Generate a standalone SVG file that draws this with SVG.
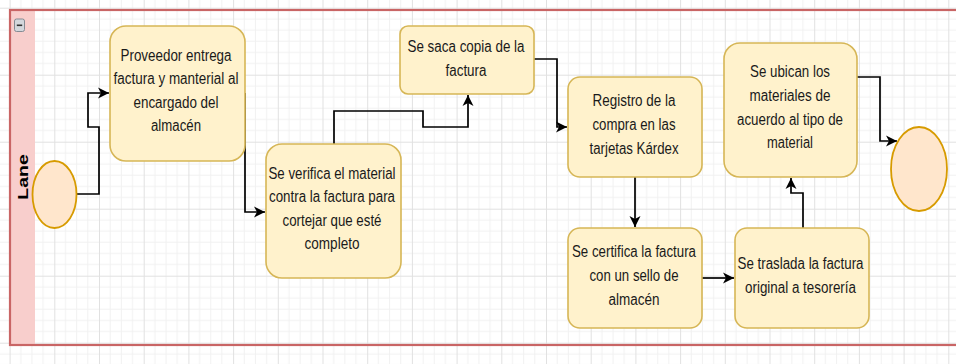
<svg xmlns="http://www.w3.org/2000/svg" width="956" height="364" viewBox="0 0 956 364">
<defs>
<pattern id="grid" patternUnits="userSpaceOnUse" x="9.6" y="7.7" width="44.7" height="67">
<path d="M11.17,0V67M22.35,0V67M33.52,0V67M0,11.17H44.7M0,22.33H44.7M0,33.5H44.7M0,44.67H44.7M0,55.83H44.7" stroke="#f1f1f1" stroke-width="1" fill="none"/>
<path d="M0.5,0V67M0,0.5H44.7" stroke="#e1e1e1" stroke-width="1" fill="none"/>
</pattern>
<marker id="arr" markerUnits="userSpaceOnUse" markerWidth="13" markerHeight="13" viewBox="0 0 13 13" refX="11" refY="6.5" orient="auto">
<path d="M0,1 L11,6.5 L0,12 L3,6.5 Z" fill="#000"/>
</marker>
<style>
.box{fill:#fff2cc;stroke:#d6b656;stroke-width:1.6}
.ev{fill:#ffe6cc;stroke:#d79b00;stroke-width:1.8}
.t{font-family:"Liberation Sans",Arial,sans-serif;font-size:17.3px;fill:#1a1a1a;text-anchor:middle}
.c{fill:none;stroke:#000;stroke-width:1.7;marker-end:url(#arr)}
</style>
</defs>
<rect x="0" y="0" width="956" height="364" fill="#fff"/>
<rect x="0" y="0" width="956" height="364" fill="url(#grid)"/>
<g id="pool">
<rect x="10" y="10" width="25" height="335" fill="#f8cecc"/>
<rect x="10" y="10" width="960" height="335" fill="none" stroke="#c96565" stroke-width="2.2"/>
<rect x="14.5" y="19" width="10" height="12.5" rx="2" fill="#d3d7dc" stroke="#858b93" stroke-width="1"/>
<line x1="16.8" y1="25.3" x2="22.2" y2="25.3" stroke="#333" stroke-width="1.6"/>
<text transform="translate(27.5,177) scale(0.79,1) rotate(-90)" font-family="'Liberation Sans',Arial,sans-serif" font-size="19.5" font-weight="bold" text-anchor="middle" fill="#000">Lane</text>
</g>
<g id="connectors">
<path class="c" d="M77,194 H99 V127 H88 V93 H109"/>
<path class="c" d="M245,93 V212 H265"/>
<path class="c" d="M334,144 V111 H423 V127 H468 V95"/>
<path class="c" d="M534,59 H557 V127 H567"/>
<path class="c" d="M635,177 V227"/>
<path class="c" d="M702,278 H734"/>
<path class="c" d="M803,228 V193 H791 V178"/>
<path class="c" d="M857,77 H880 V141 H897"/>
</g>
<g id="start"><ellipse class="ev" cx="54.5" cy="194.5" rx="22" ry="33.5"/></g>
<g id="n1"><rect class="box" x="110" y="26" width="135" height="135" rx="16"/>
<text class="t"><tspan x="176" y="60.7" textLength="111" lengthAdjust="spacingAndGlyphs">Proveedor entrega</tspan><tspan x="176" y="84.2" textLength="125" lengthAdjust="spacingAndGlyphs">factura y manterial al</tspan><tspan x="176" y="107.7" textLength="85" lengthAdjust="spacingAndGlyphs">encargado del</tspan><tspan x="176" y="131.2" textLength="50" lengthAdjust="spacingAndGlyphs">almacén</tspan></text></g>
<g id="n2"><rect class="box" x="266" y="144" width="135" height="134" rx="16"/>
<text class="t"><tspan x="332" y="178.7" textLength="127" lengthAdjust="spacingAndGlyphs">Se verifica el material</tspan><tspan x="332" y="202.2" textLength="126" lengthAdjust="spacingAndGlyphs">contra la factura para</tspan><tspan x="332" y="225.8" textLength="99" lengthAdjust="spacingAndGlyphs">cortejar que esté</tspan><tspan x="332" y="249.3" textLength="55" lengthAdjust="spacingAndGlyphs">completo</tspan></text></g>
<g id="n3"><rect class="box" x="400" y="26" width="134" height="68" rx="8"/>
<text class="t"><tspan x="466" y="52.3" textLength="117" lengthAdjust="spacingAndGlyphs">Se saca copia de la</tspan><tspan x="466" y="75.8" textLength="41" lengthAdjust="spacingAndGlyphs">factura</tspan></text></g>
<g id="n4"><rect class="box" x="568" y="77" width="134" height="100" rx="12"/>
<text class="t"><tspan x="634" y="106.3" textLength="83" lengthAdjust="spacingAndGlyphs">Registro de la</tspan><tspan x="634" y="129.8" textLength="83" lengthAdjust="spacingAndGlyphs">compra en las</tspan><tspan x="634" y="153.8" textLength="89" lengthAdjust="spacingAndGlyphs">tarjetas Kárdex</tspan></text></g>
<g id="n5"><rect class="box" x="568" y="228" width="134" height="100" rx="12"/>
<text class="t"><tspan x="634" y="257.3" textLength="124" lengthAdjust="spacingAndGlyphs">Se certifica la factura</tspan><tspan x="634" y="280.8" textLength="89" lengthAdjust="spacingAndGlyphs">con un sello de</tspan><tspan x="634" y="304.8" textLength="51" lengthAdjust="spacingAndGlyphs">almacén</tspan></text></g>
<g id="n6"><rect class="box" x="735" y="228" width="134" height="100" rx="12"/>
<text class="t"><tspan x="800.5" y="269.3" textLength="126" lengthAdjust="spacingAndGlyphs">Se traslada la factura</tspan><tspan x="800.5" y="292.8" textLength="111" lengthAdjust="spacingAndGlyphs">original a tesorería</tspan></text></g>
<g id="n7"><rect class="box" x="724" y="43" width="133" height="134" rx="16"/>
<text class="t"><tspan x="790" y="77.3" textLength="80" lengthAdjust="spacingAndGlyphs">Se ubican los</tspan><tspan x="790" y="100.8" textLength="81" lengthAdjust="spacingAndGlyphs">materiales de</tspan><tspan x="790" y="124.8" textLength="106" lengthAdjust="spacingAndGlyphs">acuerdo al tipo de</tspan><tspan x="790" y="148.3" textLength="46" lengthAdjust="spacingAndGlyphs">material</tspan></text></g>
<g id="end"><ellipse class="ev" cx="919" cy="169" rx="28" ry="42"/></g>
</svg>
